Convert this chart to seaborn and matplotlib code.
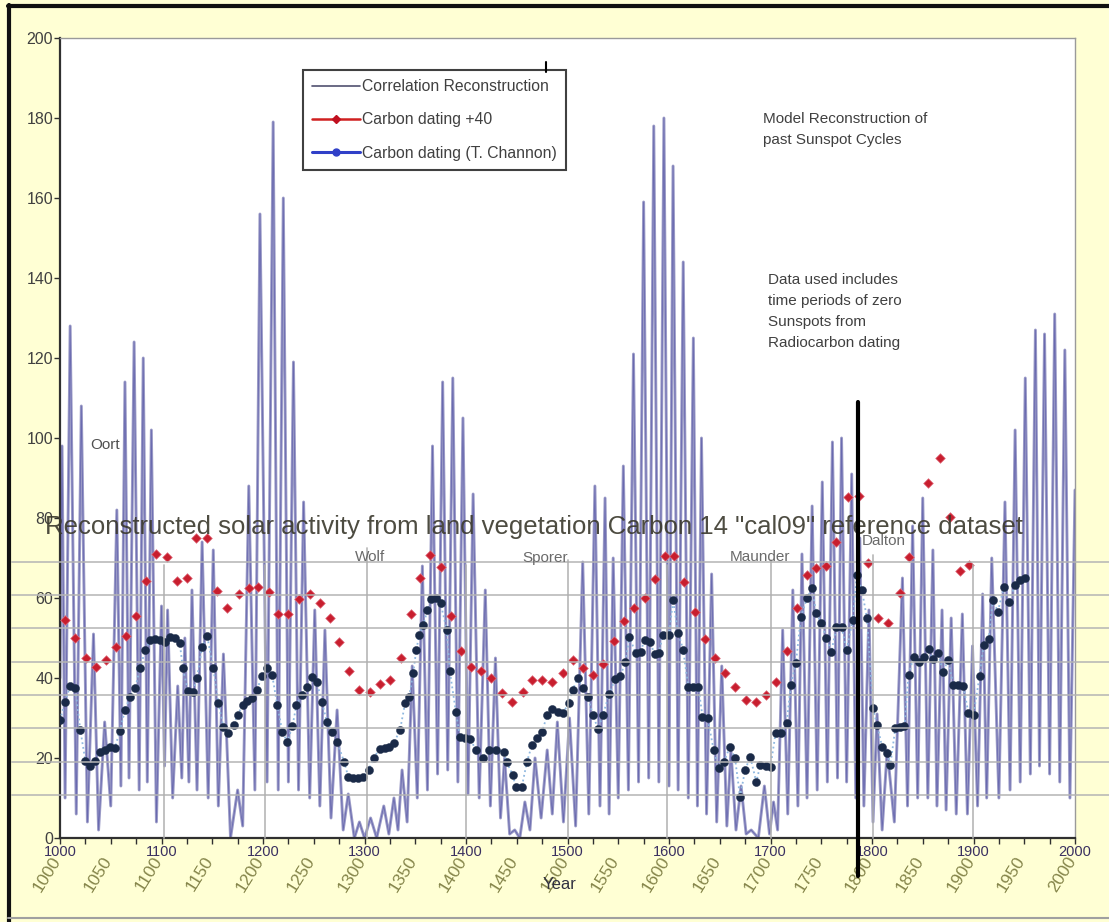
import numpy as np
import pandas as pd
import matplotlib
matplotlib.use("Agg")
import matplotlib.pyplot as plt
import matplotlib.transforms as mtransforms
from matplotlib.lines import Line2D
import seaborn as sns

# ---------------- data ----------------
recon_years = [1000, 1002, 1005, 1010, 1016, 1021, 1027, 1033, 1038, 1044, 1050, 1056, 1060, 1064, 1068,
               1073, 1078, 1082, 1086, 1090, 1095, 1100, 1103, 1106, 1111, 1116, 1120, 1123, 1127, 1130,
               1135, 1140, 1146, 1151, 1156, 1161, 1168, 1175, 1180, 1186, 1192, 1197, 1204, 1210, 1215,
               1220, 1225, 1230, 1235, 1240, 1246, 1251, 1256, 1261, 1267, 1273, 1279, 1284, 1290, 1295,
               1300, 1306, 1312, 1319, 1324, 1329, 1333, 1337, 1342, 1347, 1352, 1357, 1362, 1367, 1372,
               1377, 1382, 1387, 1392, 1397, 1402, 1407, 1413, 1419, 1424, 1429, 1434, 1438, 1443, 1448,
               1453, 1458, 1463, 1468, 1474, 1480, 1485, 1490, 1496, 1502, 1508, 1515, 1521, 1527, 1532,
               1537, 1541, 1545, 1550, 1555, 1560, 1565, 1570, 1575, 1580, 1585, 1590, 1595, 1600, 1604,
               1609, 1614, 1619, 1624, 1628, 1632, 1637, 1642, 1647, 1652, 1657, 1661, 1666, 1671, 1676,
               1681, 1688, 1694, 1699, 1703, 1707, 1712, 1717, 1722, 1727, 1731, 1736, 1741, 1746, 1751,
               1756, 1761, 1766, 1770, 1775, 1780, 1784, 1788, 1792, 1797, 1801, 1805, 1810, 1815, 1822,
               1830, 1835, 1840, 1845, 1850, 1855, 1860, 1864, 1869, 1873, 1878, 1883, 1889, 1894, 1899,
               1904, 1909, 1913, 1918, 1925, 1931, 1936, 1941, 1946, 1951, 1956, 1961, 1965, 1970, 1975,
               1980, 1985, 1990, 1995, 2000]
recon_values = [40, 98, 10, 128, 6, 108, 4, 51, 2, 29, 8, 82, 13, 114, 15,
                124, 12, 120, 14, 102, 4, 58, 18, 57, 10, 38, 15, 50, 14, 62,
                12, 74, 10, 72, 8, 46, 0, 12, 3, 88, 12, 156, 14, 179, 12,
                160, 14, 119, 12, 84, 10, 57, 8, 52, 5, 32, 2, 11, 0, 4,
                0, 5, 0, 8, 1, 10, 2, 17, 4, 43, 10, 68, 12, 98, 16,
                114, 17, 115, 14, 105, 11, 86, 10, 62, 8, 45, 5, 20, 1, 2,
                0, 9, 2, 20, 5, 22, 6, 29, 4, 30, 3, 69, 6, 88, 8,
                85, 6, 70, 10, 93, 12, 121, 14, 159, 15, 178, 14, 180, 13, 168,
                12, 144, 10, 125, 8, 100, 6, 66, 4, 43, 3, 22, 2, 13, 1,
                2, 0, 13, 1, 9, 2, 52, 6, 62, 8, 71, 10, 83, 12, 89,
                14, 99, 15, 100, 14, 91, 10, 75, 8, 57, 4, 31, 2, 22, 4,
                65, 8, 78, 10, 85, 10, 72, 8, 57, 7, 55, 6, 56, 6, 48,
                8, 61, 10, 70, 10, 84, 12, 102, 14, 115, 16, 127, 18, 126, 16,
                131, 14, 122, 10, 87]

red_years = [1005, 1015, 1026, 1035, 1045, 1055, 1065, 1075, 1085, 1095, 1105, 1115, 1125, 1134, 1145,
             1155, 1165, 1176, 1186, 1195, 1206, 1215, 1225, 1235, 1246, 1256, 1266, 1275, 1285, 1295,
             1305, 1315, 1325, 1336, 1346, 1355, 1365, 1375, 1385, 1395, 1405, 1415, 1425, 1435, 1445,
             1456, 1465, 1475, 1485, 1496, 1505, 1515, 1525, 1535, 1546, 1556, 1566, 1576, 1586, 1596,
             1605, 1615, 1626, 1635, 1645, 1655, 1665, 1676, 1686, 1696, 1705, 1716, 1726, 1736, 1745,
             1755, 1765, 1776, 1787, 1796, 1806, 1816, 1828, 1836, 1855, 1867, 1877, 1887, 1896]
red_values = [54.5, 50, 45, 42.8, 44.5, 47.8, 50.5, 55.5, 64.3, 71, 70.3, 64.3, 65, 75, 75,
              61.8, 57.5, 61, 62.5, 62.8, 61.5, 56, 56, 59.8, 61, 58.8, 55, 49, 41.8, 37,
              36.5, 38.5, 39.5, 45, 56, 65, 70.8, 67.8, 55.5, 46.8, 42.8, 41.8, 40, 36.3, 34,
              36.5, 39.5, 39.5, 39, 41.3, 44.5, 42.5, 40.8, 43.5, 49.3, 54.3, 57.5, 60, 64.8, 70.5,
              70.5, 64, 56.5, 49.7, 45, 41.3, 37.8, 34.5, 34, 35.8, 39, 46.8, 57.5, 65.8, 67.5,
              68, 74, 85.3, 85.5, 68.7, 55, 53.8, 61.3, 70.3, 88.7, 95, 80.3, 66.8, 68.3]

blue_years = [1000, 1005, 1010, 1015, 1020, 1025, 1030, 1034, 1039, 1044, 1049, 1054, 1059, 1064, 1069,
              1074, 1079, 1084, 1089, 1094, 1099, 1103, 1108, 1113, 1118, 1121, 1126, 1131, 1135, 1140,
              1145, 1151, 1156, 1161, 1166, 1171, 1175, 1180, 1184, 1189, 1194, 1199, 1204, 1209, 1214,
              1219, 1224, 1229, 1233, 1238, 1243, 1248, 1253, 1258, 1263, 1268, 1273, 1280, 1284, 1289,
              1294, 1299, 1304, 1309, 1315, 1320, 1324, 1329, 1335, 1340, 1344, 1348, 1351, 1354, 1358,
              1362, 1366, 1370, 1375, 1381, 1384, 1390, 1394, 1399, 1404, 1410, 1417, 1423, 1430, 1437,
              1440, 1446, 1449, 1455, 1460, 1465, 1470, 1475, 1480, 1485, 1491, 1496, 1501, 1505, 1510,
              1515, 1520, 1525, 1530, 1535, 1541, 1547, 1552, 1557, 1561, 1567, 1572, 1576, 1581, 1586,
              1590, 1594, 1600, 1604, 1609, 1614, 1619, 1624, 1629, 1633, 1638, 1644, 1649, 1654, 1660,
              1665, 1670, 1675, 1680, 1686, 1690, 1696, 1700, 1705, 1710, 1716, 1720, 1725, 1730, 1736,
              1741, 1745, 1750, 1755, 1760, 1765, 1770, 1775, 1781, 1785, 1790, 1795, 1801, 1805, 1810,
              1815, 1818, 1823, 1828, 1832, 1836, 1841, 1846, 1851, 1856, 1860, 1865, 1870, 1875, 1880,
              1885, 1890, 1895, 1900, 1906, 1910, 1915, 1919, 1924, 1930, 1935, 1941, 1946, 1951]
blue_values = [29.5, 34, 38, 37.5, 27, 19.3, 18, 19.3, 21.6, 22, 22.7, 22.5, 26.8, 32, 35.3,
               37.5, 42.5, 47, 49.5, 49.7, 49.5, 49, 50.3, 50, 48.7, 42.5, 36.8, 36.5, 40, 47.8,
               50.5, 42.5, 33.7, 27.8, 26.2, 28.2, 30.8, 33.3, 34.3, 35, 37, 40.5, 42.5, 40.8, 33.3,
               26.6, 24, 28, 33.3, 35.8, 37.8, 40.3, 39, 34, 29, 26.6, 24, 19, 15.3, 15,
               15, 15.3, 17, 20, 22.3, 22.6, 22.8, 23.8, 27, 33.7, 35.3, 41.3, 47, 50.8, 53.3,
               57, 59.7, 60, 58.7, 52, 41.8, 31.6, 25.3, 25, 24.7, 22, 20, 22, 22, 21.6,
               19, 15.8, 12.8, 12.8, 19, 23.3, 25, 26.6, 30.8, 32.3, 31.6, 31.3, 33.8, 37, 40,
               37.5, 35.3, 30.8, 27.3, 30.8, 36, 39.8, 40.5, 44, 50.3, 46.3, 46.6, 49.5, 49, 46,
               46.3, 50.8, 50.8, 59.5, 51.3, 47, 37.8, 37.8, 37.8, 30.3, 30, 22, 17.5, 19, 22.8,
               20, 10.3, 17, 20.3, 14, 18.3, 18, 17.8, 26.2, 26.3, 28.8, 38.3, 43.7, 55.3, 60,
               62.5, 56.2, 53.8, 50, 46.6, 52.8, 52.8, 47, 54.5, 65.8, 62, 55, 32.4, 28.2, 22.8,
               21.2, 18.3, 27.4, 27.8, 28, 40.8, 45.3, 44, 45.3, 47.2, 44.7, 46.3, 41.6, 44.5, 38.3,
               38.3, 38, 31.2, 30.8, 40.5, 48.3, 49.7, 59.5, 56.6, 62.8, 59, 63.3, 64.5, 64.9]

y_ticks = [0, 20, 40, 60, 80, 100, 120, 140, 160, 180, 200]
x_major = [1000, 1100, 1200, 1300, 1400, 1500, 1600, 1700, 1800, 1900, 2000]
x_rot_labels = [1000, 1050, 1100, 1150, 1200, 1250, 1300, 1350, 1400, 1450, 1500, 1550, 1600, 1650,
                1700, 1750, 1800, 1850, 1900, 1950, 2000]
period_labels = ["Wolf", "Sporer", "Maunder", "Dalton"]
title_text = 'Reconstructed solar activity from land vegetation Carbon 14 "cal09" reference dataset'

# ---------------- figure ----------------
sns.set_style("white")
plt.rcParams['font.family'] = ['Liberation Sans', 'DejaVu Sans']

W, H = 1109, 922
YELLOW = '#FFFFD4'
fig = plt.figure(figsize=(W / 100, H / 100), dpi=100, facecolor=YELLOW)
ax = fig.add_axes([60 / W, (H - 838) / H, (1075 - 60) / W, 800 / H])
ax.set_facecolor('white')

df_rec = pd.DataFrame({'year': recon_years, 'value': recon_values})
df_red = pd.DataFrame({'year': red_years, 'value': red_values})
df_blue = pd.DataFrame({'year': blue_years, 'value': blue_values})

sns.lineplot(data=df_rec, x='year', y='value', ax=ax, color='#9a9ac6', lw=2.1,
             sort=False, estimator=None, zorder=2)
sns.lineplot(data=df_rec, x='year', y='value', ax=ax, color='#3a3a9a', lw=0.6, alpha=0.5,
             sort=False, estimator=None, zorder=2)
sns.scatterplot(data=df_red, x='year', y='value', ax=ax, marker='D', s=24,
                color='#c81e2e', edgecolor='#e07080', linewidth=0.5, zorder=4)
sns.lineplot(data=df_blue, x='year', y='value', ax=ax, color='#8fb8e0', lw=1.3,
             linestyle=':', sort=False, estimator=None, zorder=3)
sns.scatterplot(data=df_blue, x='year', y='value', ax=ax, marker='o', s=34,
                color='#1a2a48', edgecolor='#1a2a48', linewidth=0.3, zorder=5)

ax.set_xlim(1000, 2000)
ax.set_ylim(0, 200)
ax.set_xlabel('')
ax.set_ylabel('')
ax.set_yticks(y_ticks)
ax.set_yticklabels([str(v) for v in y_ticks], fontsize=11.5, color='#404040')
ax.set_xticks(x_major)
ax.set_xticklabels([str(v) for v in x_major], fontsize=10.5, color='#3a3060')
ax.set_xticks(np.arange(1000, 2001, 25), minor=True)
ax.tick_params(axis='both', which='both', direction='out', length=4, width=1, color='#303030',
               left=True, bottom=True, pad=1)
for side in ['left', 'bottom']:
    ax.spines[side].set_color('#303030')
    ax.spines[side].set_linewidth(1.6)
for side in ['top', 'right']:
    ax.spines[side].set_color('#9a9a9a')
    ax.spines[side].set_linewidth(1.0)

# rotated second-row labels
rot_tr = mtransforms.offset_copy(ax.get_xaxis_transform(), fig=fig, x=4, y=-16, units='dots')
for yr in x_rot_labels:
    ax.text(yr, 0, str(yr), transform=rot_tr, rotation=58, ha='right', va='top',
            fontsize=12.5, color='#85854a', clip_on=False)

fig.text(543 / W, 1 - 884 / H, 'Year', fontsize=12, color='#303040', va='center', ha='left')

# legend
handles = [Line2D([0], [0], color='#505070', lw=1.2),
           Line2D([0], [0], color='#d02020', lw=1.8, marker='D', ms=4, mfc='#c01020', mec='#c01020'),
           Line2D([0], [0], color='#3040c8', lw=2.2, marker='o', ms=5, mfc='#3040c8', mec='#3040c8')]
labels = ['Correlation Reconstruction', 'Carbon dating +40', 'Carbon dating (T. Channon)']
leg = ax.legend(handles, labels, loc='upper left', bbox_to_anchor=(303 / W, 1 - 70 / H),
                bbox_transform=fig.transFigure, frameon=True, fancybox=False, edgecolor='#404040',
                fontsize=11.3, handlelength=3.0, labelspacing=1.15, borderpad=0.6,
                handletextpad=0.15, framealpha=1, borderaxespad=0)
leg.get_frame().set_linewidth(1.5)
for t in leg.get_texts():
    t.set_color('#404040')

# annotations
fig.text(763 / W, 1 - 112 / H, 'Model Reconstruction of\npast Sunspot Cycles', fontsize=11,
         color='#404040', va='top', ha='left', linespacing=1.6)
fig.text(768 / W, 1 - 273 / H, 'Data used includes\ntime periods of zero\nSunspots from\nRadiocarbon dating',
         fontsize=11, color='#404040', va='top', ha='left', linespacing=1.65)
fig.text(90 / W, 1 - 445 / H, 'Oort', fontsize=11, color='#505050', va='center', ha='left')

# overlaid second chart grid
for ypx in [562, 595, 628, 662, 695, 728, 762, 795]:
    fig.add_artist(Line2D([12 / W, 1.0], [1 - ypx / H] * 2, color='#b4b4b4', lw=1.3, alpha=0.85, zorder=6))
for xpx, top in [(164, 565), (265, 565), (367, 548), (466, 565), (568, 560), (667, 565),
                 (771, 560), (873, 555), (973, 565)]:
    fig.add_artist(Line2D([xpx / W] * 2, [1 - top / H, 1 - 838 / H], color='#b0b0b0', lw=1.3,
                          alpha=0.85, zorder=6))
for name, xpx, ypx in zip(period_labels, [355, 522, 730, 862], [557, 558, 557, 541]):
    fig.text(xpx / W, 1 - ypx / H, name, fontsize=11, color='#6a6a6a', va='center', ha='left', zorder=7)

fig.text(45 / W, 1 - 527 / H, title_text, fontsize=18.5, color='#3a382c', va='center', ha='left',
         alpha=0.9, zorder=8)

# black marker line and small tick
fig.add_artist(Line2D([858 / W] * 2, [1 - 402 / H, 1 - 876 / H], color='black', lw=3, zorder=9))
fig.add_artist(Line2D([546 / W] * 2, [1 - 62 / H, 1 - 72 / H], color='black', lw=1.5, zorder=9))

# outer border
fig.add_artist(Line2D([9 / W] * 2, [0, 1 - 5 / H], color='#101010', lw=3, zorder=9))
fig.add_artist(Line2D([8 / W, 1.0], [1 - 6 / H] * 2, color='#101010', lw=3, zorder=9))
fig.add_artist(Line2D([8 / W, 1.0], [1 - 918 / H] * 2, color='#a0a0a0', lw=1.5, zorder=9))

fig.savefig('out.png', dpi=100, facecolor=YELLOW)
